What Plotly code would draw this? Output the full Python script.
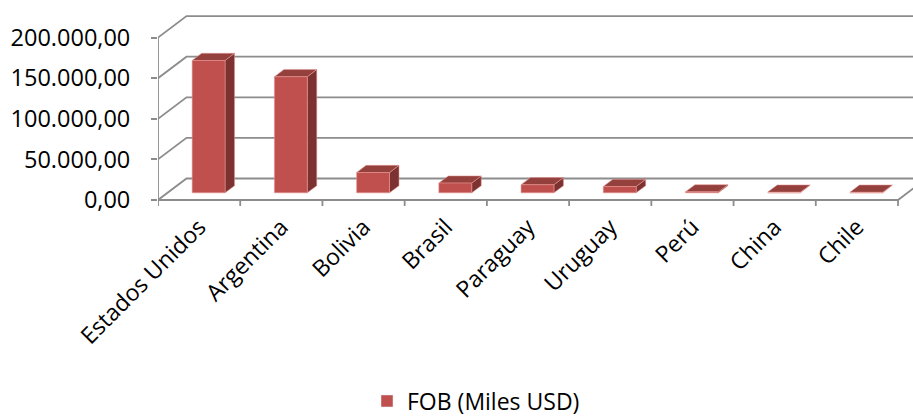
import plotly.graph_objects as go

# ---- data ----
countries = ["Estados Unidos", "Argentina", "Bolivia", "Brasil", "Paraguay",
             "Uruguay", "Perú", "China", "Chile"]
fob = [163000, 143000, 25000, 12000, 10000, 7800, 1200, 900, 800]
ytick_vals = [0, 50000, 100000, 150000, 200000]
ytick_text = ["0,00", "50.000,00", "100.000,00", "150.000,00", "200.000,00"]
series_name = "FOB (Miles USD)"

# ---- geometry (pixels) ----
W, H = 913, 416
X0 = 158.0          # front-left corner px
U = 740.0 / 9       # px per category
Y0 = 200.0          # px of value 0 on the front plane
K = 40.6 / 50000    # px per value unit
DXP, DYP = 28.5, 21.5   # depth offset in px
TOP, BOT = 8, 208

ddx = DXP / U
ddy = DYP / K
xmin = -0.5
xmax = -0.5 + (W - X0) / U
ymin = -(BOT - Y0) / K
ymax = (Y0 - TOP) / K

GRID = "#8C8C8C"
FRONT = "#C0504D"
TOPC = "#94403D"
SIDE = "#7B3230"
EDGE = "rgba(232,150,148,0.9)"

fig = go.Figure()

def seg_trace(xs, ys, color=GRID, width=1.8):
    fig.add_trace(go.Scatter(x=xs, y=ys, mode="lines", showlegend=False,
                             hoverinfo="skip",
                             line=dict(color=color, width=width)))

# back wall gridlines + left wall diagonals
gx, gy = [], []
for v in ytick_vals:
    gx += [xmin, xmin + ddx, xmax + 1, None]
    gy += [v, v + ddy, v + ddy, None]
seg_trace(gx, gy)
# front axis line, floor front line, floor right edge
n = len(countries)
seg_trace([xmin, xmin, None, xmin, n - 0.5, n - 0.5 + ddx],
          [ytick_vals[-1], 0, None, 0, 0, ddy])
# x tick marks at category boundaries
tx, ty = [], []
tick_len = 6 / K
for i in range(n + 1):
    tx += [i - 0.5, i - 0.5, None]
    ty += [0, -tick_len, None]
seg_trace(tx, ty)

# bars
bw = 0.4
f1, f2 = 1 / 3, 2 / 3
for i, v in enumerate(fob):
    xl = i - bw / 2 + f1 * ddx
    xr = i + bw / 2 + f1 * ddx
    yb = f1 * ddy
    yt = v + f1 * ddy
    ox = (f2 - f1) * ddx
    oy = (f2 - f1) * ddy
    # side
    fig.add_trace(go.Scatter(x=[xr, xr + ox, xr + ox, xr, xr],
                             y=[yb, yb + oy, yt + oy, yt, yb],
                             fill="toself", fillcolor=SIDE, mode="lines",
                             line=dict(color=EDGE, width=0.6),
                             showlegend=False, hoverinfo="skip"))
    # top
    fig.add_trace(go.Scatter(x=[xl, xr, xr + ox, xl + ox, xl],
                             y=[yt, yt, yt + oy, yt + oy, yt],
                             fill="toself", fillcolor=TOPC, mode="lines",
                             line=dict(color=EDGE, width=0.6),
                             showlegend=False, hoverinfo="skip"))
    # front
    fig.add_trace(go.Scatter(x=[xl, xr, xr, xl, xl],
                             y=[yb, yb, yt, yt, yb],
                             fill="toself", fillcolor=FRONT, mode="lines",
                             line=dict(color=EDGE, width=0.6),
                             showlegend=False, hoverinfo="skip"))

# legend entry
fig.add_trace(go.Bar(x=[None], y=[None], name=series_name,
                     marker=dict(color=FRONT), showlegend=True))

fig.update_layout(
    width=W, height=H, autosize=False,
    margin=dict(l=X0, r=0, t=TOP, b=H - BOT, pad=0, autoexpand=False),
    paper_bgcolor="white", plot_bgcolor="white",
    font=dict(family="Open Sans", size=23, color="black"),
    xaxis=dict(range=[xmin, xmax], tickvals=list(range(n)), ticktext=countries,
               tickangle=-45, ticks="", showline=False, showgrid=False,
               zeroline=False, automargin=False, fixedrange=True,
               tickfont=dict(size=23)),
    yaxis=dict(range=[ymin, ymax], tickvals=ytick_vals, ticktext=ytick_text,
               ticks="outside", ticklen=6, tickwidth=2, tickcolor=GRID,
               showline=False, showgrid=False, zeroline=False,
               automargin=False, fixedrange=True, ticklabelstandoff=16,
               tickfont=dict(size=23.5)),
    showlegend=True,
    legend=dict(orientation="h", x=(476 - X0) / (W - X0), xanchor="center",
                y=(BOT - 401) / (BOT - TOP), yanchor="middle",
                font=dict(size=23), bgcolor="rgba(0,0,0,0)"),
)

fig.write_html("out.html",
               config={"displayModeBar": False, "staticPlot": True},
               post_script="document.body.style.margin='0';"
                           "document.body.style.overflow='hidden';")
